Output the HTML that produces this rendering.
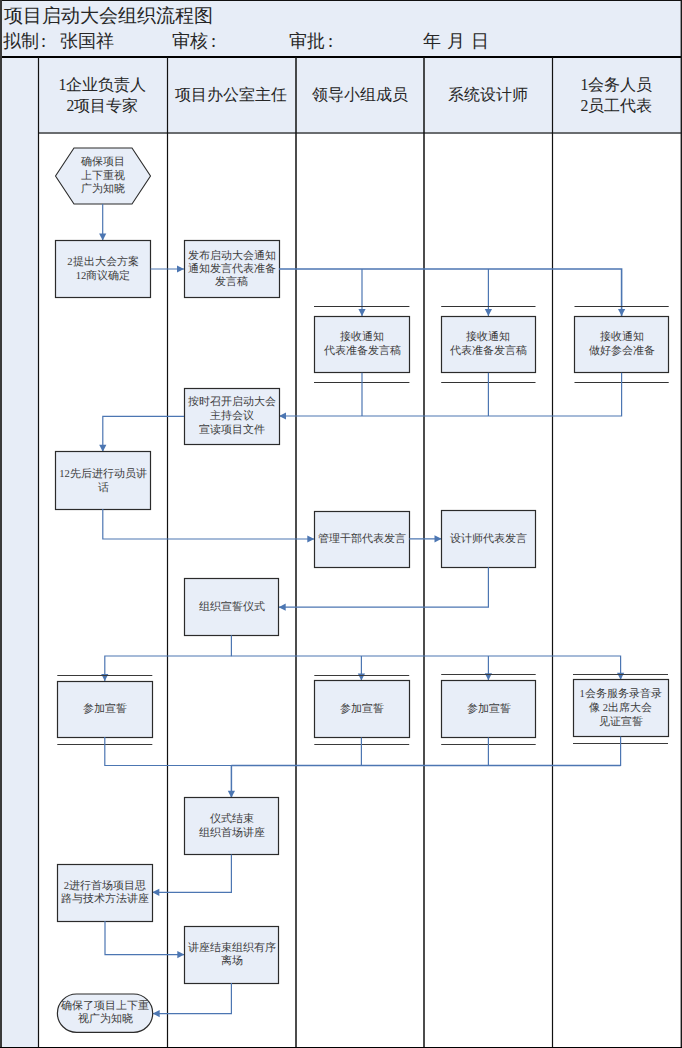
<!DOCTYPE html>
<html><head><meta charset="utf-8"><title>项目启动大会组织流程图</title>
<style>
html,body{margin:0;padding:0;background:#fff;}
body{width:682px;height:1048px;overflow:hidden;}
svg{display:block;font-family:"Liberation Serif",serif;}
</style></head><body>
<svg width="682" height="1048" viewBox="0 0 682 1048">
<rect x="0" y="0" width="682" height="1048" fill="#ffffff"/>
<rect x="0" y="0" width="682" height="133" fill="#e7edf7"/>
<rect x="0" y="0" width="38" height="1048" fill="#e7edf7"/>
<text x="3.5" y="22" font-size="18.7" fill="#262626">项目启动大会组织流程图</text>
<text x="3" y="47" font-size="18.3" fill="#262626">拟制</text>
<text x="41" y="47" font-size="18.3" fill="#262626">:</text>
<text x="60" y="47" font-size="18.3" fill="#262626">张国祥</text>
<text x="172" y="47" font-size="18.3" fill="#262626">审核</text>
<text x="211" y="47" font-size="18.3" fill="#262626">:</text>
<text x="289" y="47" font-size="18.3" fill="#262626">审批</text>
<text x="328" y="47" font-size="18.3" fill="#262626">:</text>
<text x="423" y="47" font-size="18.3" fill="#262626">年</text>
<text x="447" y="47" font-size="18.3" fill="#262626">月</text>
<text x="471" y="47" font-size="18.3" fill="#262626">日</text>
<text x="102.5" y="89.5" font-size="15.7" fill="#262626" text-anchor="middle">1企业负责人</text>
<text x="102.5" y="110.8" font-size="15.7" fill="#262626" text-anchor="middle">2项目专家</text>
<text x="231" y="99.7" font-size="15.7" fill="#262626" text-anchor="middle">项目办公室主任</text>
<text x="359.5" y="99.7" font-size="15.7" fill="#262626" text-anchor="middle">领导小组成员</text>
<text x="488" y="99.7" font-size="15.7" fill="#262626" text-anchor="middle">系统设计师</text>
<text x="616.5" y="89.5" font-size="15.7" fill="#262626" text-anchor="middle">1会务人员</text>
<text x="616.5" y="110.8" font-size="15.7" fill="#262626" text-anchor="middle">2员工代表</text>
<rect x="0" y="56" width="682" height="2" fill="#000"/>
<rect x="38" y="132" width="644" height="2" fill="#6a6d70"/>
<line x1="38.5" y1="57" x2="38.5" y2="1048" stroke="#111" stroke-width="1.2"/>
<line x1="167.5" y1="57" x2="167.5" y2="1048" stroke="#111" stroke-width="1.2"/>
<line x1="296" y1="57" x2="296" y2="1048" stroke="#111" stroke-width="1.5"/>
<line x1="424" y1="57" x2="424" y2="1048" stroke="#111" stroke-width="1.5"/>
<line x1="552.5" y1="57" x2="552.5" y2="1048" stroke="#111" stroke-width="1.2"/>
<rect x="0" y="0" width="682" height="1" fill="#111"/>
<rect x="0" y="0" width="2" height="1048" fill="#3a3a3a"/>
<rect x="680.6" y="0" width="1.4" height="1048" fill="#1a1a1a"/>
<rect x="0" y="1047" width="682" height="1" fill="#000"/>
<path d="M55.5,176 L74,148 L132,148 L150.5,176 L132,204 L74,204 Z" fill="#e8eef8" stroke="#2b2b2b" stroke-width="1.1"/>
<text x="102.7" y="165.2" font-size="10.6" fill="#3c3c3c" text-anchor="middle">确保项目</text>
<text x="102.7" y="178.7" font-size="10.6" fill="#3c3c3c" text-anchor="middle">上下重视</text>
<text x="102.7" y="192.2" font-size="10.6" fill="#3c3c3c" text-anchor="middle">广为知晓</text>
<path d="M102.7,204 L102.7,240.5" fill="none" stroke="#4c76b2" stroke-width="1.2"/>
<path d="M102.7,240.5 L99.1,233.5 L106.3,233.5 Z" fill="#4c76b2"/>
<rect x="55.5" y="240.5" width="95.0" height="57.0" fill="#e8eef8" stroke="#2b2b2b" stroke-width="1.2"/>
<text x="103" y="265.4" font-size="10.6" fill="#3c3c3c" text-anchor="middle">2提出大会方案</text>
<text x="103" y="279.2" font-size="10.6" fill="#3c3c3c" text-anchor="middle">12商议确定</text>
<path d="M150.5,269 L184,269" fill="none" stroke="#4c76b2" stroke-width="1.2"/>
<path d="M184.0,269.0 L177.0,265.4 L177.0,272.6 Z" fill="#4c76b2"/>
<rect x="184.5" y="240.5" width="95.0" height="57.0" fill="#e8eef8" stroke="#2b2b2b" stroke-width="1.2"/>
<text x="231.5" y="258.5" font-size="10.6" fill="#3c3c3c" text-anchor="middle">发布启动大会通知</text>
<text x="231.5" y="271.8" font-size="10.6" fill="#3c3c3c" text-anchor="middle">通知发言代表准备</text>
<text x="231.5" y="285.2" font-size="10.6" fill="#3c3c3c" text-anchor="middle">发言稿</text>
<path d="M279,269 L621.6,269 L621.6,316" fill="none" stroke="#4c76b2" stroke-width="1.6"/>
<path d="M362,269 L362,316" fill="none" stroke="#4c76b2" stroke-width="1.2"/>
<path d="M362.0,316.0 L358.4,309.0 L365.6,309.0 Z" fill="#4c76b2"/>
<path d="M488.4,269 L488.4,316" fill="none" stroke="#4c76b2" stroke-width="1.2"/>
<path d="M488.4,316.0 L484.8,309.0 L492.0,309.0 Z" fill="#4c76b2"/>
<path d="M621.6,316.0 L618.0,309.0 L625.2,309.0 Z" fill="#4c76b2"/>
<line x1="314" y1="306.5" x2="409.4" y2="306.5" stroke="#333" stroke-width="1.1"/>
<line x1="314" y1="382.5" x2="409.4" y2="382.5" stroke="#333" stroke-width="1.1"/>
<rect x="314.5" y="316.5" width="95.0" height="56.0" fill="#e8eef8" stroke="#2b2b2b" stroke-width="1.2"/>
<text x="362" y="340.2" font-size="10.6" fill="#3c3c3c" text-anchor="middle">接收通知</text>
<text x="362" y="353.5" font-size="10.6" fill="#3c3c3c" text-anchor="middle">代表准备发言稿</text>
<line x1="441.2" y1="306.5" x2="535.5" y2="306.5" stroke="#333" stroke-width="1.1"/>
<line x1="441.2" y1="382.5" x2="535.5" y2="382.5" stroke="#333" stroke-width="1.1"/>
<rect x="441.5" y="316.5" width="94.0" height="56.0" fill="#e8eef8" stroke="#2b2b2b" stroke-width="1.2"/>
<text x="488.4" y="340.2" font-size="10.6" fill="#3c3c3c" text-anchor="middle">接收通知</text>
<text x="488.4" y="353.5" font-size="10.6" fill="#3c3c3c" text-anchor="middle">代表准备发言稿</text>
<line x1="574.5" y1="306.5" x2="668.7" y2="306.5" stroke="#333" stroke-width="1.1"/>
<line x1="574.5" y1="382.5" x2="668.7" y2="382.5" stroke="#333" stroke-width="1.1"/>
<rect x="574.5" y="316.5" width="94.0" height="56.0" fill="#e8eef8" stroke="#2b2b2b" stroke-width="1.2"/>
<text x="621.6" y="340.2" font-size="10.6" fill="#3c3c3c" text-anchor="middle">接收通知</text>
<text x="621.6" y="353.5" font-size="10.6" fill="#3c3c3c" text-anchor="middle">做好参会准备</text>
<path d="M362,372.8 L362,416" fill="none" stroke="#4c76b2" stroke-width="1.2"/>
<path d="M488.4,372.8 L488.4,416" fill="none" stroke="#4c76b2" stroke-width="1.2"/>
<path d="M621.6,372.8 L621.6,416 L279,416" fill="none" stroke="#4c76b2" stroke-width="1.2"/>
<path d="M279.0,416.0 L286.0,412.4 L286.0,419.6 Z" fill="#4c76b2"/>
<rect x="184.5" y="388.5" width="95.0" height="56.0" fill="#e8eef8" stroke="#2b2b2b" stroke-width="1.2"/>
<text x="231.5" y="404.9" font-size="10.6" fill="#3c3c3c" text-anchor="middle">按时召开启动大会</text>
<text x="231.5" y="419.2" font-size="10.6" fill="#3c3c3c" text-anchor="middle">主持会议</text>
<text x="231.5" y="433.2" font-size="10.6" fill="#3c3c3c" text-anchor="middle">宣读项目文件</text>
<path d="M184,416.3 L102.8,416.3 L102.8,451.8" fill="none" stroke="#4c76b2" stroke-width="1.2"/>
<path d="M102.8,451.8 L99.2,444.8 L106.4,444.8 Z" fill="#4c76b2"/>
<rect x="55.5" y="451.5" width="95.0" height="58.0" fill="#e8eef8" stroke="#2b2b2b" stroke-width="1.2"/>
<text x="103" y="476.6" font-size="10.6" fill="#3c3c3c" text-anchor="middle">12先后进行动员讲</text>
<text x="103" y="490.9" font-size="10.6" fill="#3c3c3c" text-anchor="middle">话</text>
<path d="M102.8,509 L102.8,539 L314.3,539" fill="none" stroke="#4c76b2" stroke-width="1.2"/>
<path d="M314.3,539.0 L307.3,535.4 L307.3,542.6 Z" fill="#4c76b2"/>
<rect x="314.5" y="511.5" width="95.0" height="56.0" fill="#e8eef8" stroke="#2b2b2b" stroke-width="1.2"/>
<text x="361.7" y="542.2" font-size="10.6" fill="#3c3c3c" text-anchor="middle">管理干部代表发言</text>
<path d="M409.2,538.8 L441.5,538.8" fill="none" stroke="#4c76b2" stroke-width="1.2"/>
<path d="M441.5,538.8 L434.5,535.2 L434.5,542.4 Z" fill="#4c76b2"/>
<rect x="441.5" y="510.5" width="94.0" height="57.0" fill="#e8eef8" stroke="#2b2b2b" stroke-width="1.2"/>
<text x="488.5" y="542.2" font-size="10.6" fill="#3c3c3c" text-anchor="middle">设计师代表发言</text>
<path d="M488.4,567.3 L488.4,607.2 L278.7,607.2" fill="none" stroke="#4c76b2" stroke-width="1.2"/>
<path d="M278.7,607.2 L285.7,603.6 L285.7,610.8 Z" fill="#4c76b2"/>
<rect x="184.5" y="578.5" width="94.0" height="57.0" fill="#e8eef8" stroke="#2b2b2b" stroke-width="1.2"/>
<text x="231.5" y="610.2" font-size="10.6" fill="#3c3c3c" text-anchor="middle">组织宣誓仪式</text>
<path d="M231.4,635.2 L231.4,656.2" fill="none" stroke="#4c76b2" stroke-width="1.2"/>
<path d="M104.8,681 L104.8,656 L620.6,656 L620.6,680" fill="none" stroke="#4c76b2" stroke-width="1.2"/>
<path d="M104.8,681.0 L101.2,674.0 L108.4,674.0 Z" fill="#4c76b2"/>
<path d="M361.4,656 L361.4,680.6" fill="none" stroke="#4c76b2" stroke-width="1.2"/>
<path d="M361.4,680.6 L357.8,673.6 L365.0,673.6 Z" fill="#4c76b2"/>
<path d="M488.4,656 L488.4,680.3" fill="none" stroke="#4c76b2" stroke-width="1.2"/>
<path d="M488.4,680.3 L484.8,673.3 L492.0,673.3 Z" fill="#4c76b2"/>
<path d="M620.6,679.7 L617.0,672.7 L624.2,672.7 Z" fill="#4c76b2"/>
<line x1="57.3" y1="675.5" x2="152.3" y2="675.5" stroke="#3a3a3a" stroke-width="1.1"/>
<line x1="57.3" y1="744.5" x2="152.3" y2="744.5" stroke="#3a3a3a" stroke-width="1.1"/>
<rect x="57.5" y="681.5" width="95.0" height="56.0" fill="#e8eef8" stroke="#2b2b2b" stroke-width="1.2"/>
<line x1="314.3" y1="675.5" x2="409.2" y2="675.5" stroke="#3a3a3a" stroke-width="1.1"/>
<line x1="314.3" y1="744.5" x2="409.2" y2="744.5" stroke="#3a3a3a" stroke-width="1.1"/>
<rect x="314.5" y="680.5" width="95.0" height="57.0" fill="#e8eef8" stroke="#2b2b2b" stroke-width="1.2"/>
<line x1="441.2" y1="674.5" x2="535.7" y2="674.5" stroke="#3a3a3a" stroke-width="1.1"/>
<line x1="441.2" y1="744.5" x2="535.7" y2="744.5" stroke="#3a3a3a" stroke-width="1.1"/>
<rect x="441.5" y="680.5" width="94.0" height="57.0" fill="#e8eef8" stroke="#2b2b2b" stroke-width="1.2"/>
<line x1="573" y1="674.5" x2="668" y2="674.5" stroke="#3a3a3a" stroke-width="1.1"/>
<line x1="573" y1="743.5" x2="668" y2="743.5" stroke="#3a3a3a" stroke-width="1.1"/>
<rect x="573.5" y="679.5" width="95.0" height="57.0" fill="#e8eef8" stroke="#2b2b2b" stroke-width="1.2"/>
<text x="104.8" y="711.7" font-size="10.6" fill="#3c3c3c" text-anchor="middle">参加宣誓</text>
<text x="361.7" y="711.7" font-size="10.6" fill="#3c3c3c" text-anchor="middle">参加宣誓</text>
<text x="488.5" y="711.7" font-size="10.6" fill="#3c3c3c" text-anchor="middle">参加宣誓</text>
<text x="620.6" y="696.8" font-size="10.6" fill="#3c3c3c" text-anchor="middle">1会务服务录音录</text>
<text x="620.6" y="711.1" font-size="10.6" fill="#3c3c3c" text-anchor="middle">像 2出席大会</text>
<text x="620.6" y="725.4" font-size="10.6" fill="#3c3c3c" text-anchor="middle">见证宣誓</text>
<path d="M104.8,737 L104.8,765.5 L620.6,765.5 L620.6,736.5" fill="none" stroke="#4c76b2" stroke-width="1.2"/>
<path d="M361.4,737.5 L361.4,765.5" fill="none" stroke="#4c76b2" stroke-width="1.2"/>
<path d="M488.4,737.5 L488.4,765.5" fill="none" stroke="#4c76b2" stroke-width="1.2"/>
<path d="M231.4,765.5 L620.6,765.5" fill="none" stroke="#4c76b2" stroke-width="1.6"/>
<path d="M231.4,765.5 L231.4,797.7" fill="none" stroke="#4c76b2" stroke-width="1.5"/>
<path d="M231.4,797.7 L227.8,790.7 L235.0,790.7 Z" fill="#4c76b2"/>
<rect x="184.5" y="797.5" width="94.0" height="57.0" fill="#e8eef8" stroke="#2b2b2b" stroke-width="1.2"/>
<text x="231.5" y="822.2" font-size="10.6" fill="#3c3c3c" text-anchor="middle">仪式结束</text>
<text x="231.5" y="836.2" font-size="10.6" fill="#3c3c3c" text-anchor="middle">组织首场讲座</text>
<path d="M231.4,854.5 L231.4,892.3 L152.3,892.3" fill="none" stroke="#4c76b2" stroke-width="1.2"/>
<path d="M152.3,892.3 L159.3,888.7 L159.3,895.9 Z" fill="#4c76b2"/>
<rect x="57.5" y="864.5" width="95.0" height="57.0" fill="#e8eef8" stroke="#2b2b2b" stroke-width="1.2"/>
<text x="104.8" y="888.5" font-size="10.6" fill="#3c3c3c" text-anchor="middle">2进行首场项目思</text>
<text x="104.8" y="901.8" font-size="10.6" fill="#3c3c3c" text-anchor="middle">路与技术方法讲座</text>
<path d="M105,921 L105,954.6 L184.3,954.6" fill="none" stroke="#4c76b2" stroke-width="1.2"/>
<path d="M184.3,954.6 L177.3,951.0 L177.3,958.2 Z" fill="#4c76b2"/>
<rect x="184.5" y="926.5" width="94.0" height="57.0" fill="#e8eef8" stroke="#2b2b2b" stroke-width="1.2"/>
<text x="231.5" y="950.5" font-size="10.6" fill="#3c3c3c" text-anchor="middle">讲座结束组织有序</text>
<text x="231.5" y="963.6" font-size="10.6" fill="#3c3c3c" text-anchor="middle">离场</text>
<path d="M231.4,983 L231.4,1013.6 L152.7,1013.6" fill="none" stroke="#4c76b2" stroke-width="1.2"/>
<path d="M152.7,1013.6 L159.7,1010.0 L159.7,1017.2 Z" fill="#4c76b2"/>
<rect x="57.4" y="994" width="95.3" height="38.4" rx="19.2" ry="19.2" fill="#e8eef8" stroke="#2b2b2b" stroke-width="1.2"/>
<text x="105" y="1008.9" font-size="10.6" fill="#3c3c3c" text-anchor="middle">确保了项目上下重</text>
<text x="105" y="1022.2" font-size="10.6" fill="#3c3c3c" text-anchor="middle">视广为知晓</text>
</svg>
</body></html>
